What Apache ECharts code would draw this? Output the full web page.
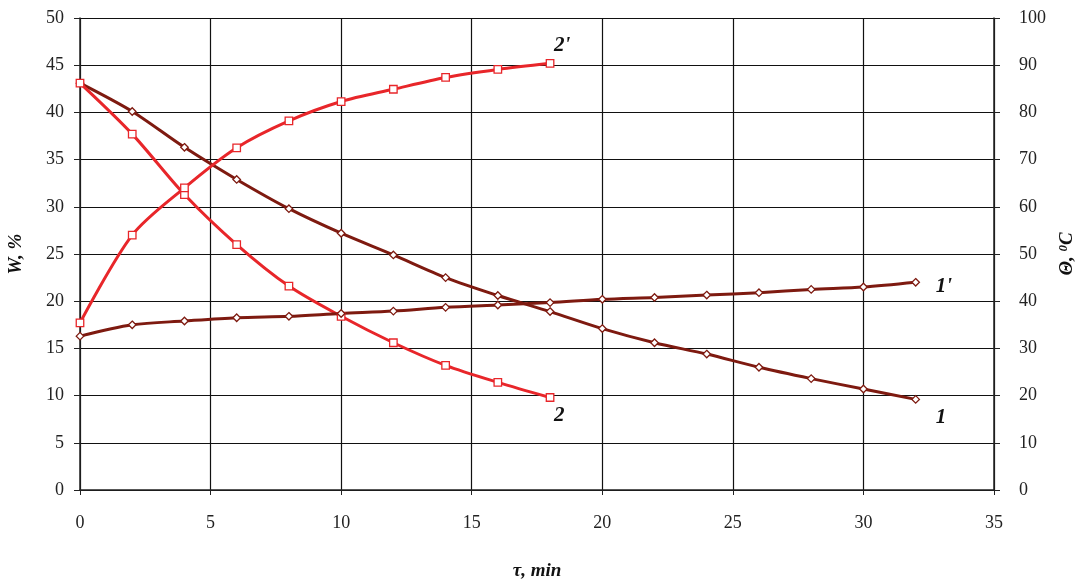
<!DOCTYPE html>
<html>
<head>
<meta charset="utf-8">
<script src="https://cdn.jsdelivr.net/npm/echarts@6/dist/echarts.min.js"></script>
<style>
	html, body {margin: 0; padding: 0; background: #fff;}
	#chart {width: 1086px; height: 582px;}
</style>
</head>
<body>
<div id="chart"></div>
<script>
// time, min
var timeLong = [0, 2, 4, 6, 8, 10, 12, 14, 16, 18, 20, 22, 24, 26, 28, 30, 32];
var timeShort = [0, 2, 4, 6, 8, 10, 12, 14, 16, 18];

// W, % (left axis)
var w1 = [43.1, 40.1, 36.3, 32.9, 29.8, 27.2, 24.9, 22.5, 20.6, 18.9, 17.1, 15.6, 14.4, 13.0, 11.8, 10.7, 9.6];
var w2 = [43.1, 37.7, 31.3, 26.0, 21.6, 18.4, 15.6, 13.2, 11.4, 9.8];

// temperature, C (right axis)
var t1 = [32.6, 35.0, 35.8, 36.5, 36.8, 37.4, 37.9, 38.7, 39.2, 39.7, 40.4, 40.8, 41.3, 41.8, 42.5, 43.0, 44.0];
var t2 = [35.4, 54.0, 64.0, 72.5, 78.2, 82.3, 84.9, 87.4, 89.1, 90.4];

var seriesNames = ['1', '2', '1\'', '2\''];

var brown = '#7e1a10';
var red = '#e8262a';
var serif = '"Liberation Serif", "DejaVu Serif", serif';

function pairs(xs, ys) {
	return xs.map(function (x, i) { return [x, ys[i]]; });
}

function makeSeries(name, data, color, symbol, yIdx, labelOffset) {
	return {
		name: name,
		type: 'line',
		yAxisIndex: yIdx,
		data: data,
		smooth: 0.3,
		symbol: symbol,
		symbolSize: 7.5,
		showAllSymbol: true,
		lineStyle: {color: color, width: 3},
		itemStyle: {color: '#fff', borderColor: color, borderWidth: 1.3},
		endLabel: {
			show: true,
			formatter: name,
			offset: labelOffset,
			fontFamily: serif,
			fontStyle: 'italic',
			fontWeight: 'bold',
			fontSize: 21,
			color: '#111'
		},
		z: 3
	};
}

var axisLabelStyle = {fontFamily: serif, fontSize: 18, color: '#222'};
var nameStyle = {fontFamily: serif, fontSize: 19, fontWeight: 'bold', fontStyle: 'italic', color: '#111'};

var ec = echarts.init(document.getElementById('chart'));
var option = {
	animation: false,
	backgroundColor: '#fff',
	grid: {left: 80, right: 92, top: 18, bottom: 92, outerBoundsMode: 'none', containLabel: false},
	xAxis: {
		type: 'value',
		min: 0,
		max: 35,
		interval: 5,
		name: 'τ, min',
		nameLocation: 'middle',
		nameGap: 72,
		nameTextStyle: nameStyle,
		axisLine: {lineStyle: {color: '#222', width: 1.5}},
		axisTick: {show: true, length: 5, lineStyle: {color: '#222'}},
		axisLabel: Object.assign({margin: 24}, axisLabelStyle),
		splitLine: {show: true, lineStyle: {color: '#111', width: 1.2}}
	},
	yAxis: [
		{
			type: 'value',
			min: 0,
			max: 50,
			interval: 5,
			name: 'W, %',
			nameLocation: 'middle',
			nameGap: 54,
			nameRotate: 90,
			nameTextStyle: nameStyle,
			axisLine: {show: true, lineStyle: {color: '#222', width: 1.5}},
			axisTick: {show: true, length: 6, lineStyle: {color: '#222'}},
			axisLabel: Object.assign({margin: 16}, axisLabelStyle),
			splitLine: {show: true, lineStyle: {color: '#111', width: 1.2}}
		},
		{
			type: 'value',
			min: 0,
			max: 100,
			interval: 10,
			name: '{a|Θ, }{s|0}{a|C}',
			nameLocation: 'middle',
			nameGap: 60,
			nameRotate: 90,
			nameTextStyle: {
				rich: {
					a: nameStyle,
					s: {fontFamily: serif, fontSize: 13, fontWeight: 'bold', fontStyle: 'italic', color: '#111', verticalAlign: 'top', padding: [0, 0, 8, 0]}
				}
			},
			axisLine: {show: true, lineStyle: {color: '#222', width: 1.5}},
			axisTick: {show: true, length: 6, lineStyle: {color: '#222'}},
			axisLabel: Object.assign({margin: 25}, axisLabelStyle),
			splitLine: {show: false}
		}
	],
	series: [
		makeSeries(seriesNames[0], pairs(timeLong, w1), brown, 'diamond', 0, [12, 18]),
		makeSeries(seriesNames[1], pairs(timeShort, w2), red, 'rect', 0, [-4, 18]),
		makeSeries(seriesNames[2], pairs(timeLong, t1), brown, 'diamond', 1, [12, 4]),
		makeSeries(seriesNames[3], pairs(timeShort, t2), red, 'rect', 1, [-4, -18])
	]
};
ec.setOption(option);
</script>
</body>
</html>
